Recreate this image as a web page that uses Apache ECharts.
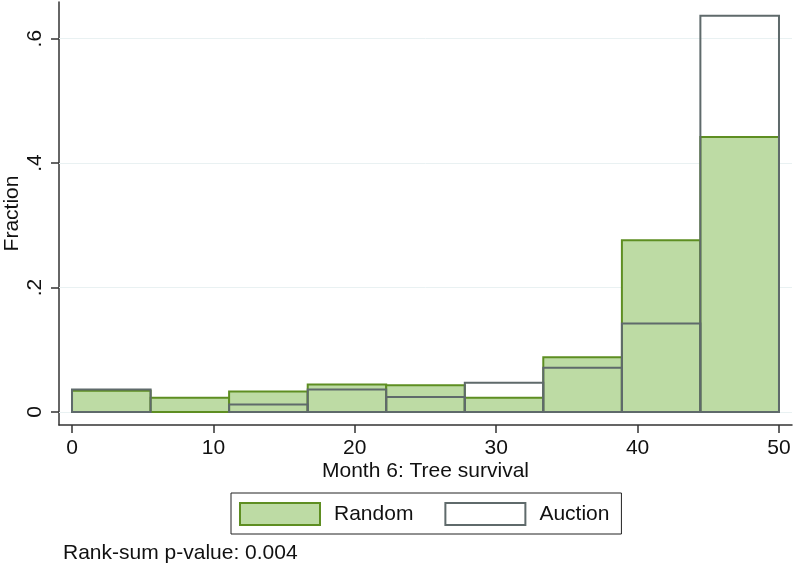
<!DOCTYPE html>
<html>
<head>
<meta charset="utf-8">
<script src="https://cdn.jsdelivr.net/npm/echarts@6/dist/echarts.min.js"></script>
<style>
  html, body { margin: 0; padding: 0; background: #fff; }
  #main { width: 796px; height: 565px; }
</style>
</head>
<body>
<div id="main"></div>
<script>
// bin edges of the histogram (month 6 tree survival)
var binEdges = [0, 5.56, 11.11, 16.67, 22.22, 27.78, 33.33, 38.89, 44.44, 50];
// fraction in each bin
var randomFrac  = [0.034, 0.023, 0.033, 0.044, 0.043, 0.023, 0.088, 0.276, 0.442];
var auctionFrac = [0.036, 0,     0.012, 0.036, 0.024, 0.047, 0.071, 0.142, 0.637];
var xTicks = [0, 10, 20, 30, 40, 50];
var yTicks = [0, 0.2, 0.4, 0.6];
var note = 'Rank-sum p-value: 0.004';

var FONT = 'Liberation Sans';
var FS = 21;

function toBars(vals) {
	var out = [];
	for (var i = 0; i < vals.length; i++) {
		out.push([binEdges[i], binEdges[i + 1], vals[i]]);
	}
	return out;
}

function barRender(fill, stroke, lw) {
	return function (params, api) {
		var v = api.value(2);
		if (!v) return null;
		var p0 = api.coord([api.value(0), 0]);
		var p1 = api.coord([api.value(1), v]);
		return {
			type: 'rect',
			shape: {x: p0[0], y: p1[1], width: p1[0] - p0[0], height: p0[1] - p1[1]},
			style: {fill: fill, stroke: stroke, lineWidth: lw}
		};
	};
}

var option = {
	backgroundColor: '#fff',
	animation: false,
	textStyle: {fontFamily: FONT},
	title: {
		text: note,
		left: 63, top: 543,
		padding: 0,
		textStyle: {fontFamily: FONT, fontSize: FS, fontWeight: 'normal', color: '#111'}
	},
	legend: {
		left: 231, top: 493,
		padding: [9, 12, 8, 8],
		itemWidth: 80, itemHeight: 22, itemGap: 31,
		borderColor: '#222', borderWidth: 1,
		textStyle: {fontFamily: FONT, fontSize: FS, color: '#111', padding: [0, 0, 0, 9]},
		data: [
			{name: 'Random', icon: 'rect', itemStyle: {color: '#bddba4', borderColor: '#5e8e22', borderWidth: 2}},
			{name: 'Auction', icon: 'rect', itemStyle: {color: '#fff', borderColor: '#5f6a6b', borderWidth: 2}}
		]
	},
	grid: {left: 59, right: 4, top: 2, bottom: 140, outerBoundsMode: 'none', containLabel: false},
	xAxis: {
		type: 'value',
		min: -0.92, max: 50.92,
		name: 'Month 6: Tree survival',
		nameLocation: 'middle', nameGap: 36, nameMoveOverlap: false,
		nameTextStyle: {fontFamily: FONT, fontSize: FS, color: '#111'},
		axisLine: {onZero: false, lineStyle: {color: '#333', width: 1.5}},
		axisTick: {customValues: xTicks, length: 8, lineStyle: {color: '#333', width: 1.5}},
		axisLabel: {customValues: xTicks, margin: 13, fontFamily: FONT, fontSize: FS, color: '#111'},
		splitLine: {show: false}
	},
	yAxis: {
		type: 'value',
		min: -0.021, max: 0.659,
		name: 'Fraction',
		nameLocation: 'middle', nameGap: 36, nameMoveOverlap: false,
		nameTextStyle: {fontFamily: FONT, fontSize: FS, color: '#111'},
		axisLine: {show: true, onZero: false, lineStyle: {color: '#333', width: 1.5}},
		axisTick: {show: true, customValues: yTicks, length: 8, lineStyle: {color: '#333', width: 1.5}},
		axisLabel: {
			customValues: yTicks, rotate: 90, margin: 13,
			fontFamily: FONT, fontSize: FS, color: '#111',
			formatter: function (v) { return v === 0 ? '0' : String(v).replace(/^0/, ''); }
		},
		splitLine: {show: false}
	},
	series: [{
		name: 'Random',
		type: 'custom',
		z: 2,
		renderItem: barRender('#bddba4', '#5e8e22', 2),
		encode: {x: [0, 1], y: 2},
		data: toBars(randomFrac),
		markLine: {
			silent: true, z: 1,
			symbol: 'none',
			label: {show: false},
			lineStyle: {color: '#e9f1f2', width: 1, type: 'solid'},
			data: yTicks.map(function (t) { return {yAxis: t}; })
		}
	}, {
		name: 'Auction',
		type: 'custom',
		z: 3,
		renderItem: barRender('none', '#5f6a6b', 2),
		encode: {x: [0, 1], y: 2},
		data: toBars(auctionFrac)
	}]
};

var myChart = echarts.init(document.getElementById('main'));
myChart.setOption(option);
</script>
</body>
</html>
